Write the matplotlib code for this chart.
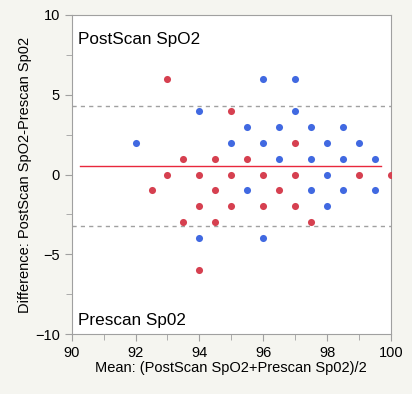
import matplotlib.pyplot as plt
from matplotlib.ticker import MultipleLocator

plt.rcParams['font.family'] = ['Liberation Sans', 'DejaVu Sans']

# blue points (mean, difference)
blue_x = [96, 97, 94, 97, 95.5, 96.5, 97.5, 98.5, 92, 95, 96, 98, 99,
          96.5, 97.5, 98.5, 99.5, 98, 95.5, 97.5, 98.5, 99.5, 98, 94, 96]
blue_y = [6, 6, 4, 4, 3, 3, 3, 3, 2, 2, 2, 2, 2,
          1, 1, 1, 1, 0, -1, -1, -1, -1, -2, -4, -4]

# red points
red_x = [93, 95, 97, 93.5, 94.5, 95.5, 93, 94, 95, 96, 97, 99, 100,
         92.5, 94.5, 96.5, 94, 95, 96, 97, 93.5, 94.5, 97.5, 94]
red_y = [6, 4, 2, 1, 1, 1, 0, 0, 0, 0, 0, 0, 0,
         -1, -1, -1, -2, -2, -2, -2, -3, -3, -3, -6]

mean_diff = 0.53
upper_loa = 4.31
lower_loa = -3.24
mean_span = [90.25, 99.7]

fig = plt.figure(figsize=(4.12, 3.94), dpi=100)
fig.patch.set_facecolor('#f5f5f0')
ax = fig.add_axes([0.174, 0.152, 0.775, 0.81])
ax.set_facecolor('white')

ax.axhline(upper_loa, color='#a0a0a0', linestyle=(0, (3, 3)), linewidth=1)
ax.axhline(lower_loa, color='#a0a0a0', linestyle=(0, (3, 3)), linewidth=1)
ax.plot(mean_span, [mean_diff, mean_diff], color='#e8283c', linewidth=1)

ax.scatter(red_x, red_y, s=26, color='#d64050', zorder=3, clip_on=True, linewidths=0)
ax.scatter(blue_x, blue_y, s=26, color='#4169e1', zorder=3, clip_on=True, linewidths=0)

ax.set_xlim(90, 100)
ax.set_ylim(-10, 10)
ax.xaxis.set_major_locator(MultipleLocator(2))
ax.xaxis.set_minor_locator(MultipleLocator(1))
ax.yaxis.set_major_locator(MultipleLocator(5))
ax.yaxis.set_minor_locator(MultipleLocator(2.5))
ax.tick_params(which='both', direction='out', color='#a0a0a0', labelsize=10.5)
ax.tick_params(which='major', length=5)
ax.tick_params(which='minor', length=4)
for s in ax.spines.values():
    s.set_color('#a0a0a0')

ax.text(0.02, 0.922, 'PostScan SpO2', transform=ax.transAxes, fontsize=12.3, va='center')
ax.text(0.02, 0.044, 'Prescan Sp02', transform=ax.transAxes, fontsize=12.3, va='center')

ax.set_xlabel('Mean: (PostScan SpO2+Prescan Sp02)/2', fontsize=10.5, labelpad=1)
ax.set_ylabel('Difference: PostScan SpO2-Prescan Sp02', fontsize=10.5, labelpad=2)

fig.savefig('out.png', dpi=100, facecolor=fig.get_facecolor())
